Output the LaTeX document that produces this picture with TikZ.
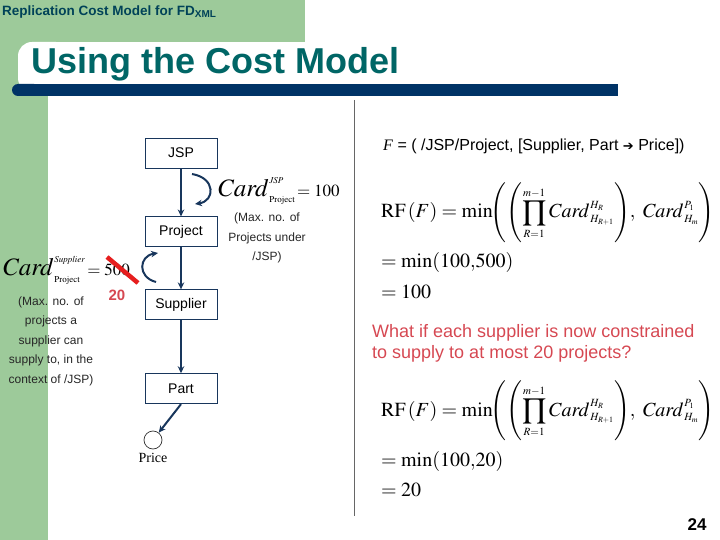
\documentclass[tikz,border=0pt]{standalone}
\usepackage{mathptmx}
\usepackage{fontspec}
\setmainfont{Liberation Serif}
\setsansfont{Liberation Sans}
\newfontfamily\dingfont{DejaVu Sans}
\DeclareMathSizes{25}{25}{9}{7}
\DeclareMathSizes{20}{20}{11}{8}
\usepackage{tikz}
\usetikzlibrary{positioning, arrows.meta}
\definecolor{slidegreen}{RGB}{157,202,154}
\definecolor{titleteal}{RGB}{0,102,102}
\definecolor{headtext}{RGB}{0,66,88}
\definecolor{navybar}{RGB}{0,51,102}
\definecolor{flowline}{RGB}{24,54,92}
\definecolor{askred}{RGB}{214,72,82}
\definecolor{strikered}{RGB}{230,30,30}
\tikzstyle{entity} = [rectangle, draw=flowline, line width=0.9pt,
  minimum width=72pt, minimum height=30pt, inner sep=0pt,
  text centered, font=\sffamily\fontsize{14}{16}\selectfont]
\tikzstyle{leaf} = [circle, draw=black!80, line width=0.7pt,
  minimum size=18pt, inner sep=0pt]
\tikzstyle{flow} = [line width=2pt, draw=flowline, ->,
  >={Stealth[length=7pt, width=6.5pt]}]
\tikzstyle{note} = [align=center, text=black!85,
  font=\sffamily\fontsize{12}{19.5}\selectfont]
\tikzstyle{formula} = [anchor=west, inner sep=0pt,
  font=\fontsize{20}{24}\selectfont]
\newcommand{\rfline}{$\displaystyle\mathrm{RF}\,(F)=\min\!\Biggl(\Biggl(\prod_{R=1}^{m-1}\mathit{Card}^{\,H_R}_{\,H_{R+1}}\Biggr),\;\mathit{Card}^{\,P_1}_{\,H_m}\Biggr)$}

\begin{document}
\begin{tikzpicture}[x=1pt, y=-1pt]
\useasboundingbox (0,0) rectangle (720,540);

% slide background
\fill[slidegreen] (0,0) rectangle (305,42);
\fill[slidegreen] (0,0) rectangle (48,540);
\fill[white, rounded corners=14pt] (18,42) rectangle (70,92);
\fill[white] (50,42) rectangle (720,92);
\fill[navybar, rounded corners=6pt] (12,84) rectangle (40,96);
\fill[navybar] (30,84) rectangle (618,96);
\draw[black!60, line width=0.8pt] (354,100) -- (354,516);

\node[anchor=west, inner sep=0pt, text=headtext,
  font=\sffamily\bfseries\fontsize{13.5}{15}\selectfont] (header) at (2,12)
  {Replication Cost Model for FD\textsubscript{XML}};
\node[anchor=base west, inner sep=0pt, text=titleteal,
  font=\sffamily\bfseries\fontsize{36}{40}\selectfont] (title) at (31,74)
  {Using the Cost Model};

% path tree
\node (jsp) [entity] at (181,153) {JSP};
\node (project) [entity, below=48pt of jsp] {Project};
\node (supplier) [entity, below=42pt of project] {Supplier};
\node (part) [entity, below=53pt of supplier] {Part};
\node (price) [leaf] at (153,440) {};
\node (pricelbl) [below=0pt of price, font=\fontsize{14}{16}\selectfont] {Price};

\draw [flow] (jsp) -- (project);
\draw [flow] (project) -- (supplier);
\draw [flow] (supplier) -- (part);
\draw [flow] (part.south) -- (price);

% cardinalities
\coordinate (jspturnA) at (192,174);
\coordinate (jspturnB) at (195,204);
\draw [flow] (jspturnA) .. controls (216,178) and (215,201) .. (jspturnB);
\coordinate (supturnA) at (156,282);
\coordinate (supturnB) at (158,253);
\draw [flow] (supturnA) .. controls (137,277) and (139,256) .. (supturnB);

\node (cardjsp) [anchor=west, inner sep=0pt] at (217,191)
  {\fontsize{25}{25}\selectfont$\mathit{Card}^{\,\mathit{JSP}}_{\,\mathrm{Project}}$%
   \fontsize{17}{17}\selectfont$\,=100$};
\node (notejsp) [note] at (267,238) {(Max. no. of\\Projects under\\/JSP)};

\node (cardsup) [anchor=west, inner sep=0pt] at (2,270)
  {\fontsize{25}{25}\selectfont$\mathit{Card}^{\,\mathit{Supplier}}_{\,\mathrm{Project}}$%
   \fontsize{17}{17}\selectfont$\,=500$};
\draw[strikered, line width=4.5pt] (107,257) -- (138,283);
\node (newcard) [text=askred, font=\sffamily\bfseries\fontsize{15}{17}\selectfont] at (117,295) {20};
\node (notesup) [note] at (51,341)
  {(Max. no. of\\projects a\\supplier can\\supply to, in the\\context of /JSP)};

% right column
\node (fdef) [anchor=west, inner sep=0pt, font=\sffamily\fontsize{16}{18}\selectfont] at (383,146)
  {\textit{\rmfamily F} = ( /JSP/Project, [Supplier, Part {\dingfont\fontsize{13}{15}\selectfont ➔} Price])};

\node (rfone) [formula] at (381,213) {\rfline};
\node (minone) [formula] at (381,262) {$=\min(100{,}500)$};
\node (resone) [formula] at (381,292) {$=100$};

\node (question) [anchor=west, align=left, inner sep=0pt, text=askred,
  font=\sffamily\fontsize{18}{21}\selectfont] at (372,343)
  {What if each supplier is now constrained\\to supply to at most 20 projects?};

\node (rftwo) [formula] at (381,411) {\rfline};
\node (mintwo) [formula] at (381,461) {$=\min(100{,}20)$};
\node (restwo) [formula] at (381,490) {$=20$};

\node (pageno) [font=\sffamily\bfseries\fontsize{17}{19}\selectfont] at (697,525) {24};
\end{tikzpicture}
\end{document}
